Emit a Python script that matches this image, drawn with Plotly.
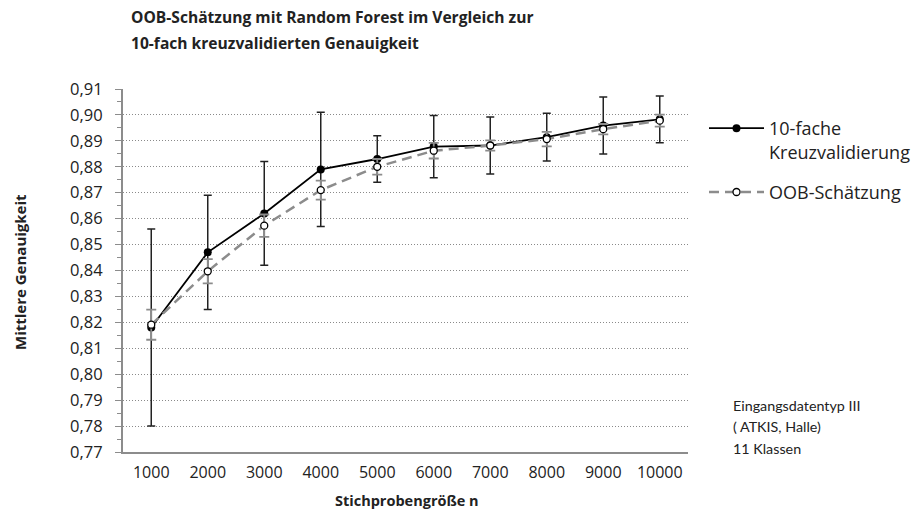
import plotly.graph_objects as go

n_sizes = [1000, 2000, 3000, 4000, 5000, 6000, 7000, 8000, 9000, 10000]
cv_mean = [0.818, 0.847, 0.862, 0.879, 0.883, 0.8878, 0.8882, 0.8914, 0.8959, 0.8983]
cv_err = [0.038, 0.022, 0.020, 0.022, 0.009, 0.012, 0.011, 0.0092, 0.011, 0.009]
oob_mean = [0.8191, 0.8397, 0.8573, 0.871, 0.880, 0.8862, 0.8882, 0.8907, 0.8945, 0.8978]
oob_err = [0.0058, 0.0047, 0.0043, 0.0037, 0.003, 0.003, 0.002, 0.0028, 0.002, 0.0023]
y_ticks = [0.77 + 0.01 * i for i in range(15)]
title_lines = ["OOB-Schätzung mit Random Forest im Vergleich zur",
               "10-fach kreuzvalidierten Genauigkeit"]
note_lines = ["Eingangsdatentyp III", "( ATKIS, Halle)", "11 Klassen"]

FONT = "Open Sans"
TXT = "#222222"
PL, PR, PT, PB = 123, 688, 89, 452  # plot area in px
W, H = 916, 514


def px_x(px):
    return (px - PL) / (PR - PL)


def px_y(py):
    return (PB - py) / (PB - PT)


fig = go.Figure()
fig.add_trace(go.Scatter(
    x=n_sizes, y=cv_mean, name="10-fache<br>Kreuzvalidierung",
    legendgroup="cv",
    mode="lines+markers",
    line=dict(color="black", width=1.8),
    marker=dict(color="black", size=8, symbol="circle"),
    error_y=dict(type="data", array=cv_err, color="#222222", thickness=1.5, width=4),
))
fig.add_trace(go.Scatter(
    x=n_sizes, y=oob_mean, name="OOB-Schätzung",
    legendgroup="oob",
    mode="lines+markers",
    line=dict(color="#8c8c8c", width=2.5, dash="10px,6px"),
    marker=dict(color="white", size=7, symbol="circle",
                line=dict(color="black", width=1.3)),
    error_y=dict(type="data", array=oob_err, color="#8c8c8c", thickness=1.8, width=5),
))

fig.update_layout(
    width=W, height=H,
    margin=dict(l=PL, r=W - PR, t=PT, b=H - PB, autoexpand=False),
    paper_bgcolor="white", plot_bgcolor="white",
    separators=",.",
    font=dict(family=FONT, color=TXT, size=15),
    showlegend=True,
    legend=dict(
        x=px_x(704), xanchor="left", y=px_y(110), yanchor="top",
        font=dict(family=FONT, size=18, color=TXT),
        bgcolor="rgba(0,0,0,0)", tracegroupgap=14, itemwidth=55,
        valign="top",
    ),
    xaxis=dict(
        range=[500, 10500], tickvals=n_sizes, ticktext=[str(v) for v in n_sizes],
        showgrid=False, zeroline=False, automargin=False,
        showline=True, linecolor="#8c8c8c", linewidth=2,
        ticks="", ticklabelstandoff=5,
        tickfont=dict(family=FONT, size=16, color=TXT),
    ),
    yaxis=dict(
        range=[0.77, 0.91], tickvals=y_ticks, tickformat=".2f",
        showgrid=True, gridcolor="#8a8a8a", griddash="1px,2px", gridwidth=1,
        zeroline=False, automargin=False,
        showline=True, linecolor="#8c8c8c", linewidth=2,
        ticks="outside", ticklen=6, tickcolor="#8c8c8c", tickwidth=1,
        ticklabelstandoff=9,
        minor=dict(dtick=0.005, ticks="outside", ticklen=4, tickcolor="#8c8c8c", showgrid=False),
        tickfont=dict(family=FONT, size=16.5, color=TXT),
    ),
)

# chart title (two lines)
for i, line in enumerate(title_lines):
    fig.add_annotation(
        xref="paper", yref="paper", x=px_x(129), y=px_y(17.5 + 25 * i),
        xanchor="left", yanchor="middle", align="left", showarrow=False,
        text="<b>" + line + "</b>",
        font=dict(family=FONT, size=15.6, color=TXT),
    )
# axis titles
fig.add_annotation(
    xref="paper", yref="paper", x=px_x(407), y=px_y(501),
    xanchor="center", yanchor="middle", showarrow=False,
    text="<b>Stichprobengröße n</b>",
    font=dict(family=FONT, size=14.5, color=TXT),
)
fig.add_annotation(
    xref="paper", yref="paper", x=px_x(20), y=px_y(272),
    xanchor="center", yanchor="middle", showarrow=False, textangle=-90,
    text="<b>Mittlere Genauigkeit</b>",
    font=dict(family=FONT, size=15, color=TXT),
)
# note (three lines)
for i, line in enumerate(note_lines):
    fig.add_annotation(
        xref="paper", yref="paper", x=px_x(731), y=px_y(405 + 21.5 * i),
        xanchor="left", yanchor="middle", align="left", showarrow=False,
        text=line,
        font=dict(family="Lato", size=14.3, color=TXT),
    )

fig.write_html(
    "out.html",
    config={"displayModeBar": False},
    post_script="document.body.style.margin='0';document.body.style.overflow='hidden';",
)
